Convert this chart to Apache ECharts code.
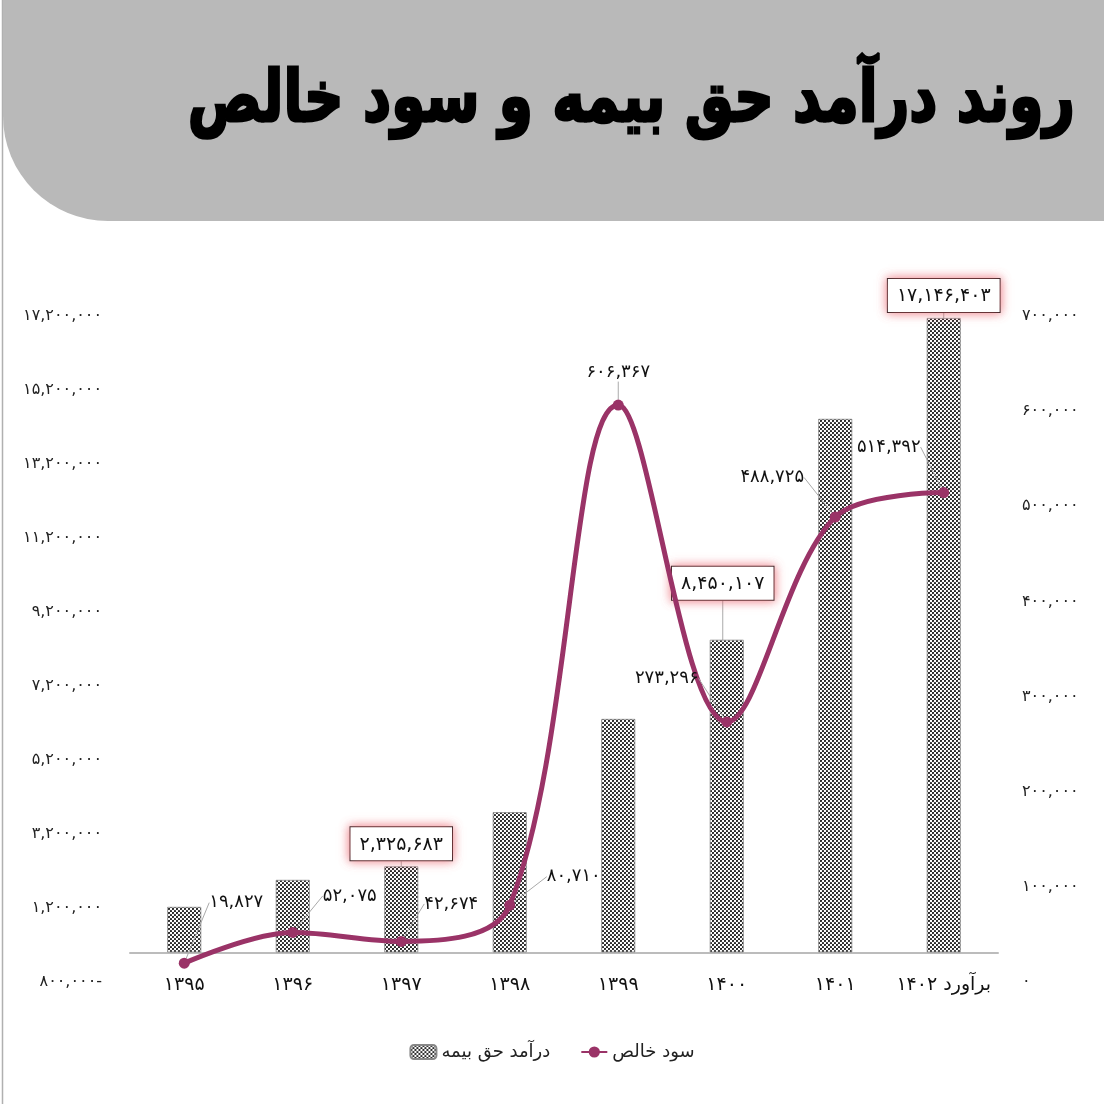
<!DOCTYPE html>
<html>
<head>
<meta charset="utf-8">
<script src="https://cdn.jsdelivr.net/npm/echarts@6/dist/echarts.min.js"></script>
<style>
html,body{margin:0;padding:0;background:#fff;}
#chart{width:1104px;height:1104px;}
</style>
</head>
<body>
<div id="chart"></div>
<script>
// ---- data ----
const categories = ['۱۳۹۵','۱۳۹۶','۱۳۹۷','۱۳۹۸','۱۳۹۹','۱۴۰۰','۱۴۰۱','برآورد ۱۴۰۲'];
const premium = [1230000, 1960000, 2325683, 3790000, 6310000, 8450107, 14420000, 17146403];
const profit = [19827, 52075, 42674, 80710, 606367, 273296, 488725, 514392];
const premiumLabeled = [2, 5, 7];
const leftTicks = [-800000, 1200000, 3200000, 5200000, 7200000, 9200000, 11200000, 13200000, 15200000, 17200000];
const rightTicks = [0, 100000, 200000, 300000, 400000, 500000, 600000, 700000];
const titleText = 'روند درآمد حق بیمه و سود خالص';
const seriesNames = ['درآمد حق بیمه', 'سود خالص'];

// ---- label placement (style) ----
const lineLabelShift = [[52,-41],[57,-17],[50,-18],[64,-9],[0,-13],[-60,-24],[-63,-20],[-55,-26]];
const barLabelShift = {2:[0,0], 5:[-4,-34], 7:[0,0]};

const fa = '۰۱۲۳۴۵۶۷۸۹';
function toFa(n){
  const neg = n < 0;
  const s = Math.abs(Math.round(n)).toString().replace(/\B(?=(\d{3})+(?!\d))/g, ',');
  const f = s.replace(/\d/g, d => fa[+d]);
  return neg ? f + '-' : f;
}

// dotted pattern
const pc = document.createElement('canvas');
pc.width = 4; pc.height = 4;
const pctx = pc.getContext('2d');
pctx.fillStyle = '#ffffff'; pctx.fillRect(0,0,4,4);
pctx.fillStyle = '#1a1a1a';
pctx.beginPath(); pctx.arc(1,1,1.1,0,Math.PI*2); pctx.fill();
pctx.beginPath(); pctx.arc(3,3,1.1,0,Math.PI*2); pctx.fill();
const pattern = {image: pc, repeat: 'repeat'};

const FONT = '"DejaVu Sans", sans-serif';
const chart = echarts.init(document.getElementById('chart'), null, {renderer: 'canvas'});

const barData = premium.map((v, i) => {
  const item = {value: v};
  if (premiumLabeled.indexOf(i) >= 0) {
    item.label = {show: true};
  }
  return item;
});

chart.setOption({
  animation: false,
  backgroundColor: '#ffffff',
  graphic: [
    {type: 'line', shape: {x1: 2.5, y1: 0, x2: 2.5, y2: 1104}, style: {stroke: '#b0b0b0', lineWidth: 1.5}, z: 0},
    {type: 'rect', shape: {x: 3, y: 0, width: 1101, height: 221, r: [0, 0, 0, 105]}, style: {fill: '#b9b9b9'}, z: 1},
    {type: 'text', x: 1075, y: 102, scaleY: 1.3, z: 2,
     style: {text: titleText, font: 'bold 55px ' + FONT, fill: '#000', stroke: '#000', lineWidth: 2.2,
             align: 'right', verticalAlign: 'middle'}}
  ],
  legend: {
    data: seriesNames,
    bottom: 38,
    left: 'center',
    itemWidth: 26,
    itemHeight: 14,
    itemGap: 30,
    textStyle: {fontFamily: FONT, fontSize: 18, color: '#222'}
  },
  grid: {left: 130, right: 106, top: 316, bottom: 122},
  xAxis: {
    type: 'category',
    data: categories,
    axisLine: {onZero: true, lineStyle: {color: '#bcbcbc', width: 2}},
    axisTick: {show: false},
    axisLabel: {interval: 0, margin: -6, fontFamily: FONT, fontSize: 19, color: '#111'}
  },
  yAxis: [
    {type: 'value', min: leftTicks[0], max: leftTicks[leftTicks.length-1], interval: 2000000,
     splitLine: {show: false}, axisLine: {show: false}, axisTick: {show: false},
     axisLabel: {margin: 28, fontFamily: FONT, fontSize: 16, color: '#222', formatter: v => toFa(v),
       customValues: leftTicks}},
    {type: 'value', min: rightTicks[0], max: rightTicks[rightTicks.length-1], interval: 100000,
     splitLine: {show: false}, axisLine: {show: false}, axisTick: {show: false},
     axisLabel: {margin: 24, fontFamily: FONT, fontSize: 16, color: '#222', formatter: v => toFa(v),
       customValues: rightTicks}}
  ],
  series: [
    {
      name: seriesNames[0],
      type: 'bar',
      yAxisIndex: 0,
      barWidth: 34,
      data: barData,
      itemStyle: {color: pattern, borderColor: '#888', borderWidth: 0.8},
      label: {
        show: false, position: 'top', distance: 6,
        formatter: p => toFa(p.value),
        fontFamily: FONT, fontSize: 19, color: '#111',
        backgroundColor: '#fff', borderColor: '#222', borderWidth: 1,
        padding: [8, 9, 6, 9],
        shadowColor: 'rgba(235,90,100,0.75)', shadowBlur: 10
      },
      labelLayout: p => {
        const s = barLabelShift[p.dataIndex] || [0,0];
        return {dx: s[0], dy: s[1]};
      },
      labelLine: {show: true, lineStyle: {color: '#aaa', width: 1}},
      z: 2
    },
    {
      name: seriesNames[1],
      type: 'line',
      yAxisIndex: 1,
      smooth: 0.35,
      data: profit,
      symbol: 'circle',
      symbolSize: 11,
      lineStyle: {color: '#9a3367', width: 5},
      itemStyle: {color: '#9a3367'},
      label: {
        show: true, position: 'top', distance: 5,
        formatter: p => toFa(p.value),
        fontFamily: FONT, fontSize: 18, color: '#111'
      },
      labelLayout: p => {
        const s = lineLabelShift[p.dataIndex];
        return {dx: s[0], dy: s[1]};
      },
      labelLine: {show: true, lineStyle: {color: '#aaa', width: 1}},
      z: 3
    }
  ]
});
</script>
</body>
</html>
